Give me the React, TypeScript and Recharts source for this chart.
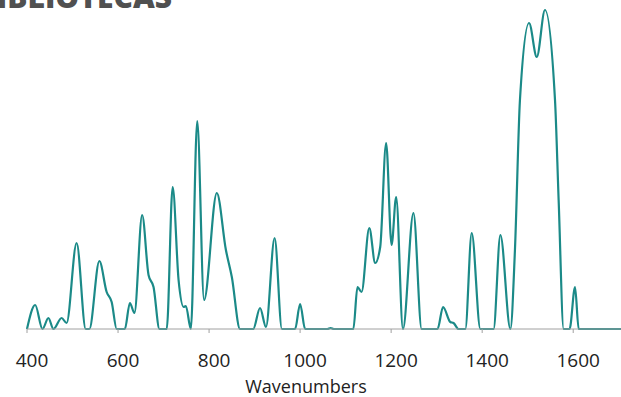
import React from "react";
import { LineChart, Line, XAxis, YAxis } from "recharts";

// wavenumber (cm-1) and intensity
const wavenumbers = [
  400, 418, 434, 447, 458, 476, 487, 509, 529, 537, 559, 575, 586, 597, 615,
  626, 636, 653, 667, 678, 691, 707, 720, 733, 744, 749, 760, 774, 789, 817,
  837, 850, 868, 897, 912, 925, 944, 960, 989, 1000, 1011, 1060, 1067, 1074,
  1117, 1126, 1135, 1152, 1165, 1176, 1189, 1201, 1211, 1226, 1249, 1267,
  1302, 1314, 1330, 1337, 1348, 1363, 1377, 1396, 1425, 1440, 1462, 1472,
  1483, 1503, 1520, 1538, 1560, 1568, 1579, 1592, 1604, 1612, 1705,
];
const intensity = [
  0, 24, 0, 11, 0, 11, 6, 86, 0, 0, 68, 37, 27, 0, 0,
  26, 16, 114, 54, 42, 0, 0, 142, 49, 22, 23, 0, 208, 29, 136,
  79, 52, 0, 0, 21, 2, 91, 0, 0, 25, 0, 0, 1, 0,
  0, 42, 37, 101, 66, 82, 186, 84, 132, 0, 116, 0,
  0, 22, 7, 6, 0, 0, 96, 0, 0, 94, 0, 79,
  229, 306, 272, 319, 229, 129, 0, 0, 42, 0, 0,
];
const xTicks = [400, 600, 800, 1000, 1200, 1400, 1600];

const data = wavenumbers.map((w, i) => ({ w, v: intensity[i] }));

const TickLabel = (props: any) => {
  const { x, payload } = props;
  return (
    <text
      x={x + 5}
      y={360}
      textAnchor="middle"
      dominantBaseline="central"
      fontSize={19}
      fill="#222"
      fontFamily="'Open Sans', sans-serif"
    >
      {payload.value}
    </text>
  );
};

export default function App() {
  return (
    <div style={{ position: "absolute", left: 0, top: 0, width: 621, height: 397, background: "#fff", overflow: "hidden" }}>
      <LineChart
        width={621}
        height={397}
        data={data}
        margin={{ top: 9, right: 0, left: 27, bottom: 0 }}
      >
        <XAxis
          dataKey="w"
          type="number"
          domain={[400, 1705]}
          ticks={xTicks}
          height={68}
          stroke="#a0a0a0"
          tickSize={4}
          tick={<TickLabel />}
          label={{
            content: () => (
              <text
                x={306}
                y={386}
                textAnchor="middle"
                dominantBaseline="central"
                fontSize={18}
                fill="#222"
                fontFamily="'Open Sans', sans-serif"
              >
                Wavenumbers
              </text>
            ),
          }}
        />
        <YAxis hide domain={[0, 320]} />
        <Line
          type="monotone"
          dataKey="v"
          stroke="#1b8a88"
          strokeWidth={2.2}
          dot={false}
          isAnimationActive={false}
        />
      </LineChart>
      <svg width={621} height={397} style={{ position: "absolute", left: 0, top: 0, pointerEvents: "none" }}>
        <text
          x={172}
          y={8}
          textAnchor="end"
          fontSize={30}
          fontWeight={800}
          fill="#505050"
          fontFamily="'Open Sans', sans-serif"
        >
          BIBLIOTECAS
        </text>
      </svg>
    </div>
  );
}
